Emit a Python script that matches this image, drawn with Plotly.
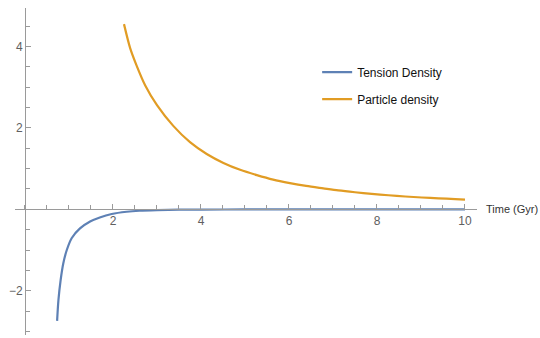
import plotly.graph_objects as go

# Data
tension_t = [0.73, 0.76, 0.81, 0.87, 0.95, 1.06, 1.25, 1.48, 1.70, 1.97, 2.31, 2.6, 3.0, 3.5, 4.0, 5.0, 6.0, 7.0, 8.0, 9.0, 10.0]
tension_v = [-2.74, -2.23, -1.74, -1.33, -1.0, -0.71, -0.47, -0.30, -0.20, -0.115, -0.06, -0.035, -0.02, -0.01, -0.006, -0.003, -0.002, -0.001, -0.001, -0.0005, -0.0005]

particle_t = [2.25, 2.39, 2.53, 2.73, 3.0, 3.37, 3.75, 4.13, 4.51, 4.89, 5.27, 5.64, 6.02, 6.39, 6.78,
              7.12, 7.50, 7.88, 8.26, 8.64, 9.02, 9.40, 9.78, 10.0]
particle_v = [4.55, 3.96, 3.55, 3.05, 2.56, 2.05, 1.65, 1.36, 1.14, 0.97, 0.84, 0.73, 0.645, 0.575, 0.515,
              0.465, 0.42, 0.38, 0.345, 0.315, 0.29, 0.27, 0.25, 0.24]

x_ticks = [2, 4, 6, 8, 10]
y_ticks = [-2, 2, 4]

BLUE = "#5E81B5"
ORANGE = "#E19C24"
AXIS = "#9a9a9a"
TICKFONT = dict(family="Liberation Sans, Arial, sans-serif", size=12, color="#606060")

W, H = 540, 338
ml, mr, mt, mb = 15, 63, 8, 3
x_range = [-0.227, 10.273]
y_range = [-3.088, 4.946]

fig = go.Figure()
fig.add_trace(go.Scatter(x=tension_t, y=tension_v, mode="lines", name="Tension Density",
                         line=dict(color=BLUE, width=2.2, shape="spline", smoothing=0.8), legendgroup="a"))
fig.add_trace(go.Scatter(x=particle_t, y=particle_v, mode="lines", name="Particle density",
                         line=dict(color=ORANGE, width=2.2, shape="spline", smoothing=0.8), legendgroup="b"))

# positions of crossing axes in paper coords
x_axis_pos = (0 - y_range[0]) / (y_range[1] - y_range[0])
y_axis_pos = (0 - x_range[0]) / (x_range[1] - x_range[0])

fig.update_layout(
    width=W, height=H,
    margin=dict(l=ml, r=mr, t=mt, b=mb, autoexpand=False),
    paper_bgcolor="white", plot_bgcolor="white",
    showlegend=True,
    legend=dict(x=0.654, y=0.848, xanchor="left", yanchor="top",
                font=dict(family="Liberation Sans, Arial, sans-serif", size=12, color="#111"),
                bgcolor="rgba(0,0,0,0)", tracegroupgap=8),
    xaxis=dict(range=x_range, anchor="free", position=x_axis_pos, automargin=False,
               showgrid=False, zeroline=False, showline=True, linecolor=AXIS, linewidth=1,
               tickmode="array", tickvals=x_ticks, ticks="inside", ticklen=5, tickcolor=AXIS,
               tickfont=TICKFONT,
               minor=dict(ticks="inside", tick0=0, dtick=0.5, ticklen=4, tickcolor=AXIS, showgrid=False)),
    yaxis=dict(range=y_range, anchor="free", position=y_axis_pos, automargin=False,
               showgrid=False, zeroline=False, showline=True, linecolor=AXIS, linewidth=1,
               tickmode="array", tickvals=y_ticks, ticks="inside", ticklen=5, tickcolor=AXIS,
               tickfont=TICKFONT,
               minor=dict(ticks="inside", tick0=0, dtick=0.5, ticklen=4, tickcolor=AXIS, showgrid=False)),
)

fig.add_annotation(text="Time (Gyr)", xref="paper", yref="paper", x=1.0, y=x_axis_pos,
                   xanchor="left", yanchor="middle", xshift=7, showarrow=False,
                   font=dict(family="Liberation Sans, Arial, sans-serif", size=11, color="#333"))

fig.write_html("out.html", config={"displayModeBar": False},
               post_script="document.body.style.margin='0';document.body.style.overflow='hidden';")
